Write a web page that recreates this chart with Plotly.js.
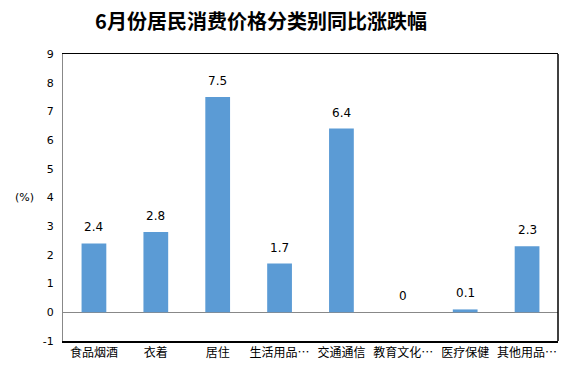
<!DOCTYPE html>
<html><head><meta charset="utf-8">
<script src="https://cdn.plot.ly/plotly-3.0.1.min.js"></script>
<style>html,body{margin:0;padding:0;background:#fff}#c{width:574px;height:374px}</style>
</head><body><div id="c"></div>
<script>
const categories = ["食品烟酒","衣着","居住","生活用品…","交通通信","教育文化…","医疗保健","其他用品…"];
const values = [2.4, 2.8, 7.5, 1.7, 6.4, 0, 0.1, 2.3];
const valueLabels = ["2.4","2.8","7.5","1.7","6.4","0","0.1","2.3"];
const yTicks = [-1,0,1,2,3,4,5,6,7,8,9];
const titleText = "6月份居民消费价格分类别同比涨跌幅";
const unitText = "(%)";

const numFont = "DejaVu Sans, Tahoma, sans-serif";
const cjkFont = "Noto Sans CJK SC, sans-serif";

const annotations = categories.map((c,i)=>({
  x: c, y: Math.max(values[i],0), xref:'x', yref:'y',
  text: valueLabels[i], showarrow:false, yanchor:'bottom', yshift:7,
  font:{family:numFont,size:12,color:'#000'}
}));
annotations.push({x:-0.054, xref:'paper', y:4, yref:'y', text:unitText, showarrow:false,
  xanchor:'right', font:{family:numFont,size:11,color:'#000'}});

Plotly.newPlot('c',[{
  type:'bar', x:categories, y:values,
  marker:{color:'#5B9BD5'}, hoverinfo:'none'
}],{
  width:574,height:374,
  margin:{l:63,r:16,t:54,b:33},
  paper_bgcolor:'#fff',plot_bgcolor:'#fff',
  bargap:0.6,
  showlegend:false,
  title:{text:'<b>'+titleText+'</b>', x:261/574, xref:'container', xanchor:'center', y:1-22/374, yref:'container', yanchor:'middle', font:{family:cjkFont,size:20,color:'#000'}},
  xaxis:{type:'category', showline:true, linecolor:'#000', linewidth:1.5, mirror:true, ticks:'', showgrid:false,
    tickfont:{family:cjkFont,size:12,color:'#000'}, automargin:false},
  yaxis:{range:[-1,9], tickvals:yTicks, ticktext:yTicks.map(String), showgrid:false,
    showline:true, linecolor:'#888', linewidth:1, ticks:'', zeroline:true, zerolinecolor:'#888', zerolinewidth:1.5,
    tickfont:{family:numFont,size:11,color:'#000'}, ticklabelstandoff:6, automargin:false},
  shapes:[{type:'line', xref:'paper', yref:'paper', x0:1, x1:1, y0:0, y1:1, line:{color:'#000',width:1.5}}],
  annotations:annotations
},{staticPlot:true});
</script></body></html>
